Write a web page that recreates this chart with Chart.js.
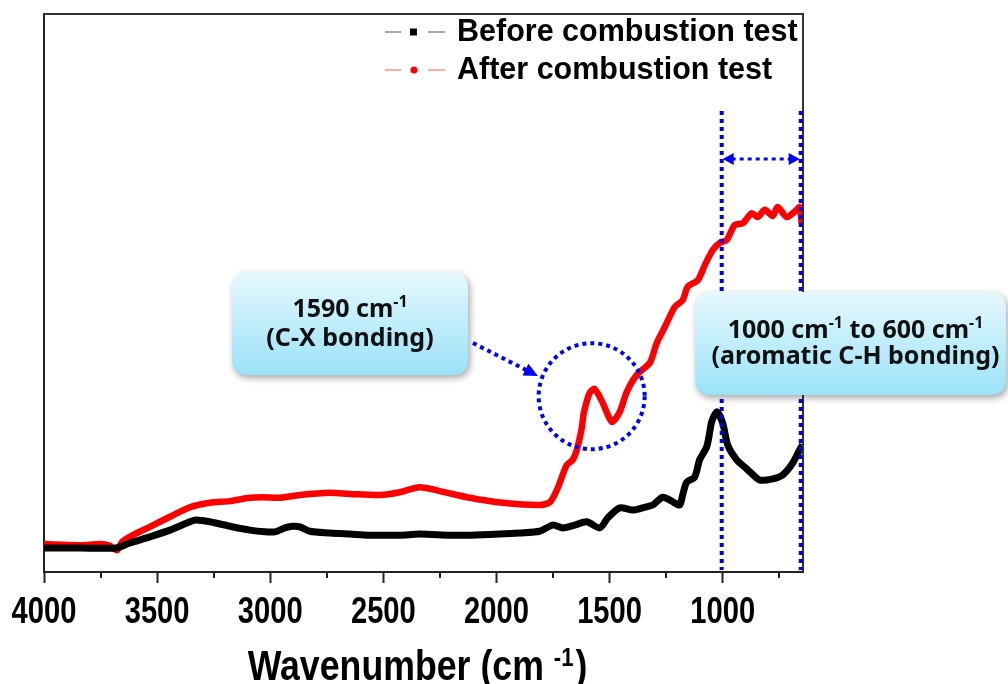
<!DOCTYPE html>
<html><head><meta charset="utf-8">
<script src="https://cdn.jsdelivr.net/npm/chart.js@4"></script>
<style>html,body{margin:0;padding:0;background:#fff}#wrap{width:1008px;height:684px}</style>
</head><body><div id="wrap"><canvas id="c" width="1008" height="684"></canvas></div>
<script>
// ---- data ----
const beforeWavenumbers = [4000,3840,3682,3620,3532,3443,3355,3328,3267,3178,3090,3024,2979,2935,2900,2869,2825,2736,2648,2560,2427,2339,2206,2118,1985,1897,1809,1751,1707,1654,1601,1543,1508,1455,1398,1345,1309,1265,1225,1190,1177,1159,1124,1102,1071,1057,1049,1026,1000,978,938,894,837,779,735,691,660,647];
const beforeIntensity = [4.3,4.3,4.3,5.2,6.3,7.5,9.0,9.3,9.0,8.2,7.5,7.2,7.2,7.9,8.2,8.1,7.3,7.0,6.8,6.6,6.6,6.8,6.6,6.6,6.8,7.0,7.3,8.4,7.9,8.4,9.0,7.9,9.7,11.5,11.1,11.6,12.0,13.4,12.7,12.0,13.8,16.1,17.0,20.1,22.4,25.1,26.9,28.7,26.7,22.8,20.1,18.5,16.5,16.7,17.4,19.5,21.9,22.8];
const afterWavenumbers = [4000,3840,3753,3708,3677,3655,3598,3532,3443,3355,3267,3178,3090,3032,2957,2869,2736,2648,2515,2427,2339,2250,2118,1972,1809,1764,1733,1711,1689,1663,1645,1623,1614,1588,1566,1530,1490,1455,1424,1380,1322,1292,1256,1212,1177,1155,1110,1079,1044,1013,982,947,911,872,845,814,779,757,717,673,660,651];
const afterIntensity = [5.0,4.8,5.0,4.7,3.9,5.4,6.8,8.1,9.9,11.6,12.4,12.7,13.3,13.4,13.3,13.8,14.2,14.0,13.8,14.3,15.2,14.5,13.3,12.4,12.0,12.5,14.7,17.0,19.2,20.1,21.9,25.8,28.5,32.1,32.8,30.3,26.9,28.7,32.3,35.3,37.5,41.0,43.9,47.5,48.7,51.1,52.3,55.0,57.7,59.0,59.5,62.2,62.5,64.3,63.6,64.9,63.8,65.4,63.6,64.9,65.4,62.5];
const seriesLabels = ['Before combustion test', 'After combustion test'];
const xMajorTicks = [4000, 3500, 3000, 2500, 2000, 1500, 1000];
const xRange = [645, 4000];
const highlightRange = [1000, 655];   // 1000 cm-1 to 600 cm-1 band
const peakMark = [1588, 31.5];        // 1590 cm-1 peak
const axisTitle = 'Wavenumber (cm';

const toPts = (xs, ys) => xs.map((x, i) => ({x: x, y: ys[i]}));

const BOLDSANS = "'Liberation Sans',Arial,sans-serif";
const CALLFONT = "'Noto Sans','Open Sans',sans-serif";
const SQUEEZE = 0.81;
const TITLE_SQUEEZE = 0.85;

function fillSqueezed(ctx, text, x, y, sx) {
  ctx.save(); ctx.translate(x, y); ctx.scale(sx, 1); ctx.fillText(text, 0, 0); ctx.restore();
}

function drawRich(ctx, parts, cx, baseline, size, family) {
  let total = 0;
  const widths = parts.map(p => {
    ctx.font = 'bold ' + (p.sup ? Math.round(size * 0.62) : size) + 'px ' + family;
    const w = ctx.measureText(p.t).width; total += w; return w;
  });
  let x = cx - total / 2;
  ctx.textAlign = 'left'; ctx.textBaseline = 'alphabetic';
  parts.forEach((p, i) => {
    ctx.font = 'bold ' + (p.sup ? Math.round(size * 0.62) : size) + 'px ' + family;
    ctx.fillText(p.t, x, p.sup ? baseline - size * 0.42 : baseline);
    x += widths[i];
  });
}

function roundRect(ctx, x, y, w, h, r) {
  ctx.beginPath();
  ctx.moveTo(x + r, y); ctx.lineTo(x + w - r, y); ctx.quadraticCurveTo(x + w, y, x + w, y + r);
  ctx.lineTo(x + w, y + h - r); ctx.quadraticCurveTo(x + w, y + h, x + w - r, y + h);
  ctx.lineTo(x + r, y + h); ctx.quadraticCurveTo(x, y + h, x, y + h - r);
  ctx.lineTo(x, y + r); ctx.quadraticCurveTo(x, y, x + r, y); ctx.closePath();
}

function callout(ctx, x, y, w, h, lines, size) {
  ctx.save();
  roundRect(ctx, x, y, w, h, 16);
  const g = ctx.createLinearGradient(0, y, 0, y + h);
  g.addColorStop(0, '#e6f8fd'); g.addColorStop(1, '#9be2f8');
  ctx.shadowColor = 'rgba(0,0,0,0.35)'; ctx.shadowBlur = 7; ctx.shadowOffsetX = 2; ctx.shadowOffsetY = 3;
  ctx.fillStyle = g; ctx.fill();
  ctx.restore();
  ctx.save(); ctx.fillStyle = '#111';
  lines.forEach(l => drawRich(ctx, l.parts, x + w / 2 + (l.dx || 0), l.baseline, size, CALLFONT));
  ctx.restore();
}

function arrowHead(ctx, tx, ty, ang, len, wid) {
  ctx.beginPath();
  ctx.moveTo(tx, ty);
  ctx.lineTo(tx - len * Math.cos(ang) + wid / 2 * Math.sin(ang), ty - len * Math.sin(ang) - wid / 2 * Math.cos(ang));
  ctx.lineTo(tx - len * Math.cos(ang) - wid / 2 * Math.sin(ang), ty - len * Math.sin(ang) + wid / 2 * Math.cos(ang));
  ctx.closePath(); ctx.fill();
}

const decor = {
  id: 'decor',
  beforeDraw(chart) {
    const c = chart.ctx; c.save(); c.fillStyle = '#fff'; c.fillRect(0, 0, chart.width, chart.height); c.restore();
  },
  afterDraw(chart) {
    const ctx = chart.ctx, a = chart.chartArea, xs = chart.scales.x, ys = chart.scales.y;
    ctx.save();
    // frame top & right
    ctx.strokeStyle = '#333'; ctx.lineWidth = 2;
    ctx.beginPath(); ctx.moveTo(a.left - 1, a.top); ctx.lineTo(a.right, a.top); ctx.lineTo(a.right, a.bottom); ctx.stroke();
    // minor ticks
    ctx.strokeStyle = '#222'; ctx.lineWidth = 2;
    for (let v = 3750; v > xRange[0]; v -= 500) {
      const px = Math.round(xs.getPixelForValue(v));
      ctx.beginPath(); ctx.moveTo(px, a.bottom); ctx.lineTo(px, a.bottom + 6); ctx.stroke();
    }
    // tick labels (condensed bold, positioned by the x scale)
    ctx.fillStyle = '#000'; ctx.font = 'bold 36px ' + BOLDSANS; ctx.textBaseline = 'alphabetic'; ctx.textAlign = 'center';
    xs.ticks.forEach(t => {
      fillSqueezed(ctx, String(t.value), xs.getPixelForValue(t.value), 623, SQUEEZE);
    });
    ctx.textAlign = 'left';
    // blue highlight band
    const bx1 = xs.getPixelForValue(highlightRange[0]) - 1, bx2 = xs.getPixelForValue(highlightRange[1]);
    ctx.strokeStyle = '#0000ff'; ctx.fillStyle = '#0000ff'; ctx.lineWidth = 4; ctx.setLineDash([4, 4]);
    [bx1, bx2].forEach(bx => { ctx.beginPath(); ctx.moveTo(bx, 111); ctx.lineTo(bx, a.bottom - 2); ctx.stroke(); });
    ctx.lineWidth = 3;
    ctx.beginPath(); ctx.moveTo(bx1 + 10, 159); ctx.lineTo(bx2 - 10, 159); ctx.stroke();
    ctx.setLineDash([]);
    arrowHead(ctx, bx1 + 1, 159, Math.PI, 11, 12);
    arrowHead(ctx, bx2 - 1, 159, 0, 11, 12);
    // circle around 1590 peak
    const cx = xs.getPixelForValue(peakMark[0]), cy = ys.getPixelForValue(peakMark[1]);
    ctx.lineWidth = 4; ctx.setLineDash([4, 4]);
    ctx.beginPath(); ctx.arc(cx + 2, cy, 53, 0, Math.PI * 2); ctx.stroke();
    // arrow from callout
    ctx.lineWidth = 4;
    const sx = 473, sy = 343, tx = 538, ty = 376, ang = Math.atan2(ty - sy, tx - sx);
    ctx.beginPath(); ctx.moveTo(sx, sy); ctx.lineTo(tx - 12 * Math.cos(ang), ty - 12 * Math.sin(ang)); ctx.stroke();
    ctx.setLineDash([]);
    arrowHead(ctx, tx, ty, ang, 14, 13);
    ctx.restore();

    // callouts
    callout(ctx, 232, 272, 236, 103, [
      {parts: [{t: '1590 cm'}, {t: '-1', sup: true}], baseline: 317},
      {parts: [{t: '(C-X bonding)'}], baseline: 346}
    ], 25);
    callout(ctx, 695, 292, 311, 103, [
      {parts: [{t: '1000 cm'}, {t: '-1', sup: true}, {t: ' to 600 cm'}, {t: '-1', sup: true}], baseline: 338, dx: 5},
      {parts: [{t: '(aromatic C-H bonding)'}], baseline: 364, dx: 5}
    ], 25);

    // legend
    ctx.save();
    const ly = [32, 70];
    chart.data.datasets.forEach((ds, i) => {
      ctx.strokeStyle = i === 0 ? '#555' : '#ff5a5a'; ctx.lineWidth = 1.2;
      ctx.beginPath(); ctx.moveTo(385, ly[i]); ctx.lineTo(401, ly[i]); ctx.moveTo(428, ly[i]); ctx.lineTo(445, ly[i]); ctx.stroke();
      ctx.fillStyle = ds.borderColor;
      if (i === 0) ctx.fillRect(410, ly[i] - 3.5, 7, 7);
      else { ctx.beginPath(); ctx.arc(414, ly[i], 3.5, 0, Math.PI * 2); ctx.fill(); }
      ctx.fillStyle = '#000'; ctx.font = 'bold 30.5px ' + BOLDSANS; ctx.textAlign = 'left'; ctx.textBaseline = 'middle';
      ctx.fillText(ds.label, 457, ly[i] + 1);
    });
    ctx.restore();

    // axis title with superscript (condensed bold)
    ctx.save(); ctx.fillStyle = '#000'; ctx.textBaseline = 'alphabetic'; ctx.textAlign = 'left';
    ctx.font = 'bold 42px ' + BOLDSANS;
    const w1 = ctx.measureText(axisTitle + ' ').width * TITLE_SQUEEZE;
    const w3 = ctx.measureText(')').width * TITLE_SQUEEZE;
    ctx.font = 'bold 26px ' + BOLDSANS; const w2 = ctx.measureText('-1').width * TITLE_SQUEEZE;
    const x0 = (a.left + a.right) / 2 - 7 - (w1 + w2 + w3) / 2;
    ctx.font = 'bold 42px ' + BOLDSANS; fillSqueezed(ctx, axisTitle + ' ', x0, 680, TITLE_SQUEEZE);
    ctx.font = 'bold 26px ' + BOLDSANS; fillSqueezed(ctx, '-1', x0 + w1, 666, TITLE_SQUEEZE);
    ctx.font = 'bold 42px ' + BOLDSANS; fillSqueezed(ctx, ')', x0 + w1 + w2 + 2, 680, TITLE_SQUEEZE);
    ctx.restore();
  }
};

new Chart(document.getElementById('c'), {
  type: 'line',
  data: {
    datasets: [
      {label: seriesLabels[0], data: toPts(beforeWavenumbers, beforeIntensity), borderColor: '#000', backgroundColor: '#000',
       borderWidth: 7, pointStyle: 'rect', pointRadius: 0, tension: 0.25, fill: false},
      {label: seriesLabels[1], data: toPts(afterWavenumbers, afterIntensity), borderColor: '#ff0000', backgroundColor: '#ff0000',
       borderWidth: 6.5, pointStyle: 'circle', pointRadius: 0, tension: 0.25, fill: false}
    ]
  },
  options: {
    responsive: false, animation: false, devicePixelRatio: 1,
    layout: {padding: {left: 44, top: 14, right: 205, bottom: 0}},
    plugins: {legend: {display: false}, tooltip: {enabled: false}},
    scales: {
      x: {
        type: 'linear', reverse: true, min: xRange[0], max: xRange[1],
        afterFit: s => { s.height = 112; },
        border: {display: true, color: '#222', width: 2},
        grid: {drawOnChartArea: false, drawTicks: true, tickLength: 11, tickWidth: 2, tickColor: '#222'},
        afterBuildTicks: s => { s.ticks = xMajorTicks.map(v => ({value: v})); },
        ticks: {display: false}
      },
      y: {
        min: 0, max: 100, afterFit: s => { s.width = 0; },
        border: {display: true, color: '#222', width: 2},
        grid: {display: false}, ticks: {display: false}
      }
    }
  },
  plugins: [decor]
});
</script>
</body></html>
